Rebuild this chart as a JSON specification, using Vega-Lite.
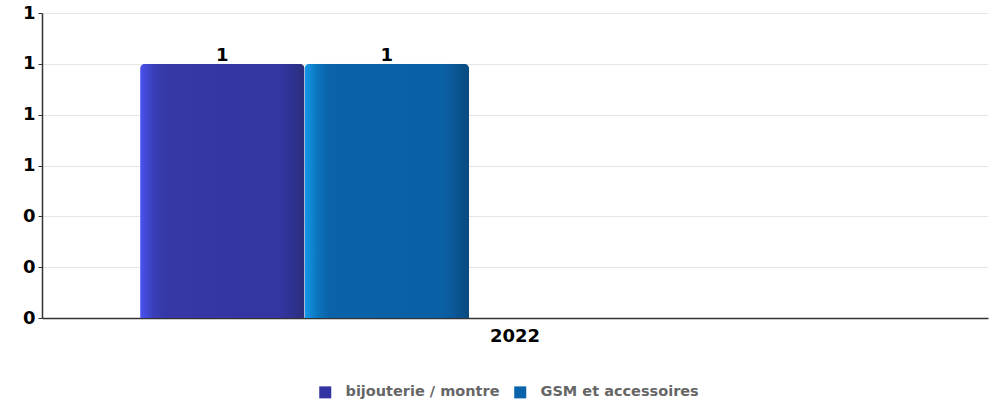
{
  "$schema": "https://vega.github.io/schema/vega-lite/v6.json",
  "autosize": "none",
  "width": 946,
  "height": 305,
  "padding": {"left": 42, "top": 13, "right": 10, "bottom": 86},
  "background": "white",
  "config": {
    "view": {"stroke": null},
    "font": "DejaVu Sans"
  },
  "data": {
    "values": [
      {"year": "2022", "series": "bijouterie / montre", "value": 1},
      {"year": "2022", "series": "GSM et accessoires", "value": 1}
    ]
  },
  "encoding": {
    "x": {
      "field": "year", "type": "nominal",
      "scale": {"paddingInner": 0, "paddingOuter": 0},
      "axis": {
        "title": null, "labelAngle": 0, "labelFont": "DejaVu Sans", "labelFontWeight": "bold",
        "labelFontSize": 18, "labelColor": "#000", "labelPadding": 9,
        "domainColor": "#333", "domainWidth": 1.5, "ticks": false
      }
    },
    "xOffset": {
      "field": "series", "type": "nominal",
      "scale": {
        "domain": ["bijouterie / montre", "GSM et accessoires", "_3", "_4", "_5"],
        "paddingInner": 0, "paddingOuter": 0.3755, "align": 0.794
      }
    },
    "y": {
      "field": "value", "type": "quantitative",
      "scale": {"domain": [0, 1.2], "nice": false},
      "axis": {
        "title": null, "values": [0, 0.2, 0.4, 0.6, 0.8, 1.0, 1.2], "format": ".0f",
        "labelFont": "DejaVu Sans", "labelFontWeight": "bold", "labelFontSize": 18, "labelColor": "#000",
        "labelPadding": 3, "tickSize": 4, "tickColor": "#333", "domainColor": "#333", "domainWidth": 1.5,
        "gridColor": "#e6e6e6", "gridWidth": 1
      }
    }
  },
  "layer": [
    {
      "transform": [{"filter": "datum.series === 'bijouterie / montre'"}],
      "mark": {
        "type": "bar", "cornerRadiusTopLeft": 5, "cornerRadiusTopRight": 5,
        "color": {
          "gradient": "linear", "x1": 0, "x2": 1, "y1": 0, "y2": 0,
          "stops": [
            {"offset": 0, "color": "#4a52f2"},
            {"offset": 0.08, "color": "#3a3fb8"},
            {"offset": 0.15, "color": "#3538a6"},
            {"offset": 0.85, "color": "#3336a0"},
            {"offset": 0.93, "color": "#2e3290"},
            {"offset": 1, "color": "#2a2c78"}
          ]
        }
      }
    },
    {
      "transform": [{"filter": "datum.series === 'GSM et accessoires'"}],
      "mark": {
        "type": "bar", "cornerRadiusTopLeft": 5, "cornerRadiusTopRight": 5,
        "color": {
          "gradient": "linear", "x1": 0, "x2": 1, "y1": 0, "y2": 0,
          "stops": [
            {"offset": 0, "color": "#1598ea"},
            {"offset": 0.08, "color": "#0c74bd"},
            {"offset": 0.15, "color": "#0a62a8"},
            {"offset": 0.85, "color": "#0a60a4"},
            {"offset": 0.93, "color": "#0a5490"},
            {"offset": 1, "color": "#084a80"}
          ]
        }
      }
    },
    {
      "mark": {"type": "text", "font": "DejaVu Sans", "fontWeight": "bold", "fontSize": 18, "color": "#000", "baseline": "alphabetic", "dy": -3},
      "encoding": {"text": {"field": "value", "type": "quantitative", "format": ".0f"}}
    },
    {
      "mark": {"type": "point", "shape": "square", "filled": true, "opacity": 0},
      "encoding": {
        "color": {
          "field": "series", "type": "nominal",
          "scale": {"domain": ["bijouterie / montre", "GSM et accessoires"], "range": ["#3333a3", "#0a64ac"]},
          "legend": {
            "title": null, "orient": "none", "direction": "horizontal", "legendX": 276, "legendY": 372,
            "symbolType": "square", "symbolSize": 144, "symbolOpacity": 1, "symbolStrokeWidth": 0,
            "labelFont": "DejaVu Sans", "labelFontWeight": "bold", "labelFontSize": 14.5, "labelColor": "#666",
            "labelOffset": 13, "columnPadding": 13
          }
        }
      }
    }
  ]
}
